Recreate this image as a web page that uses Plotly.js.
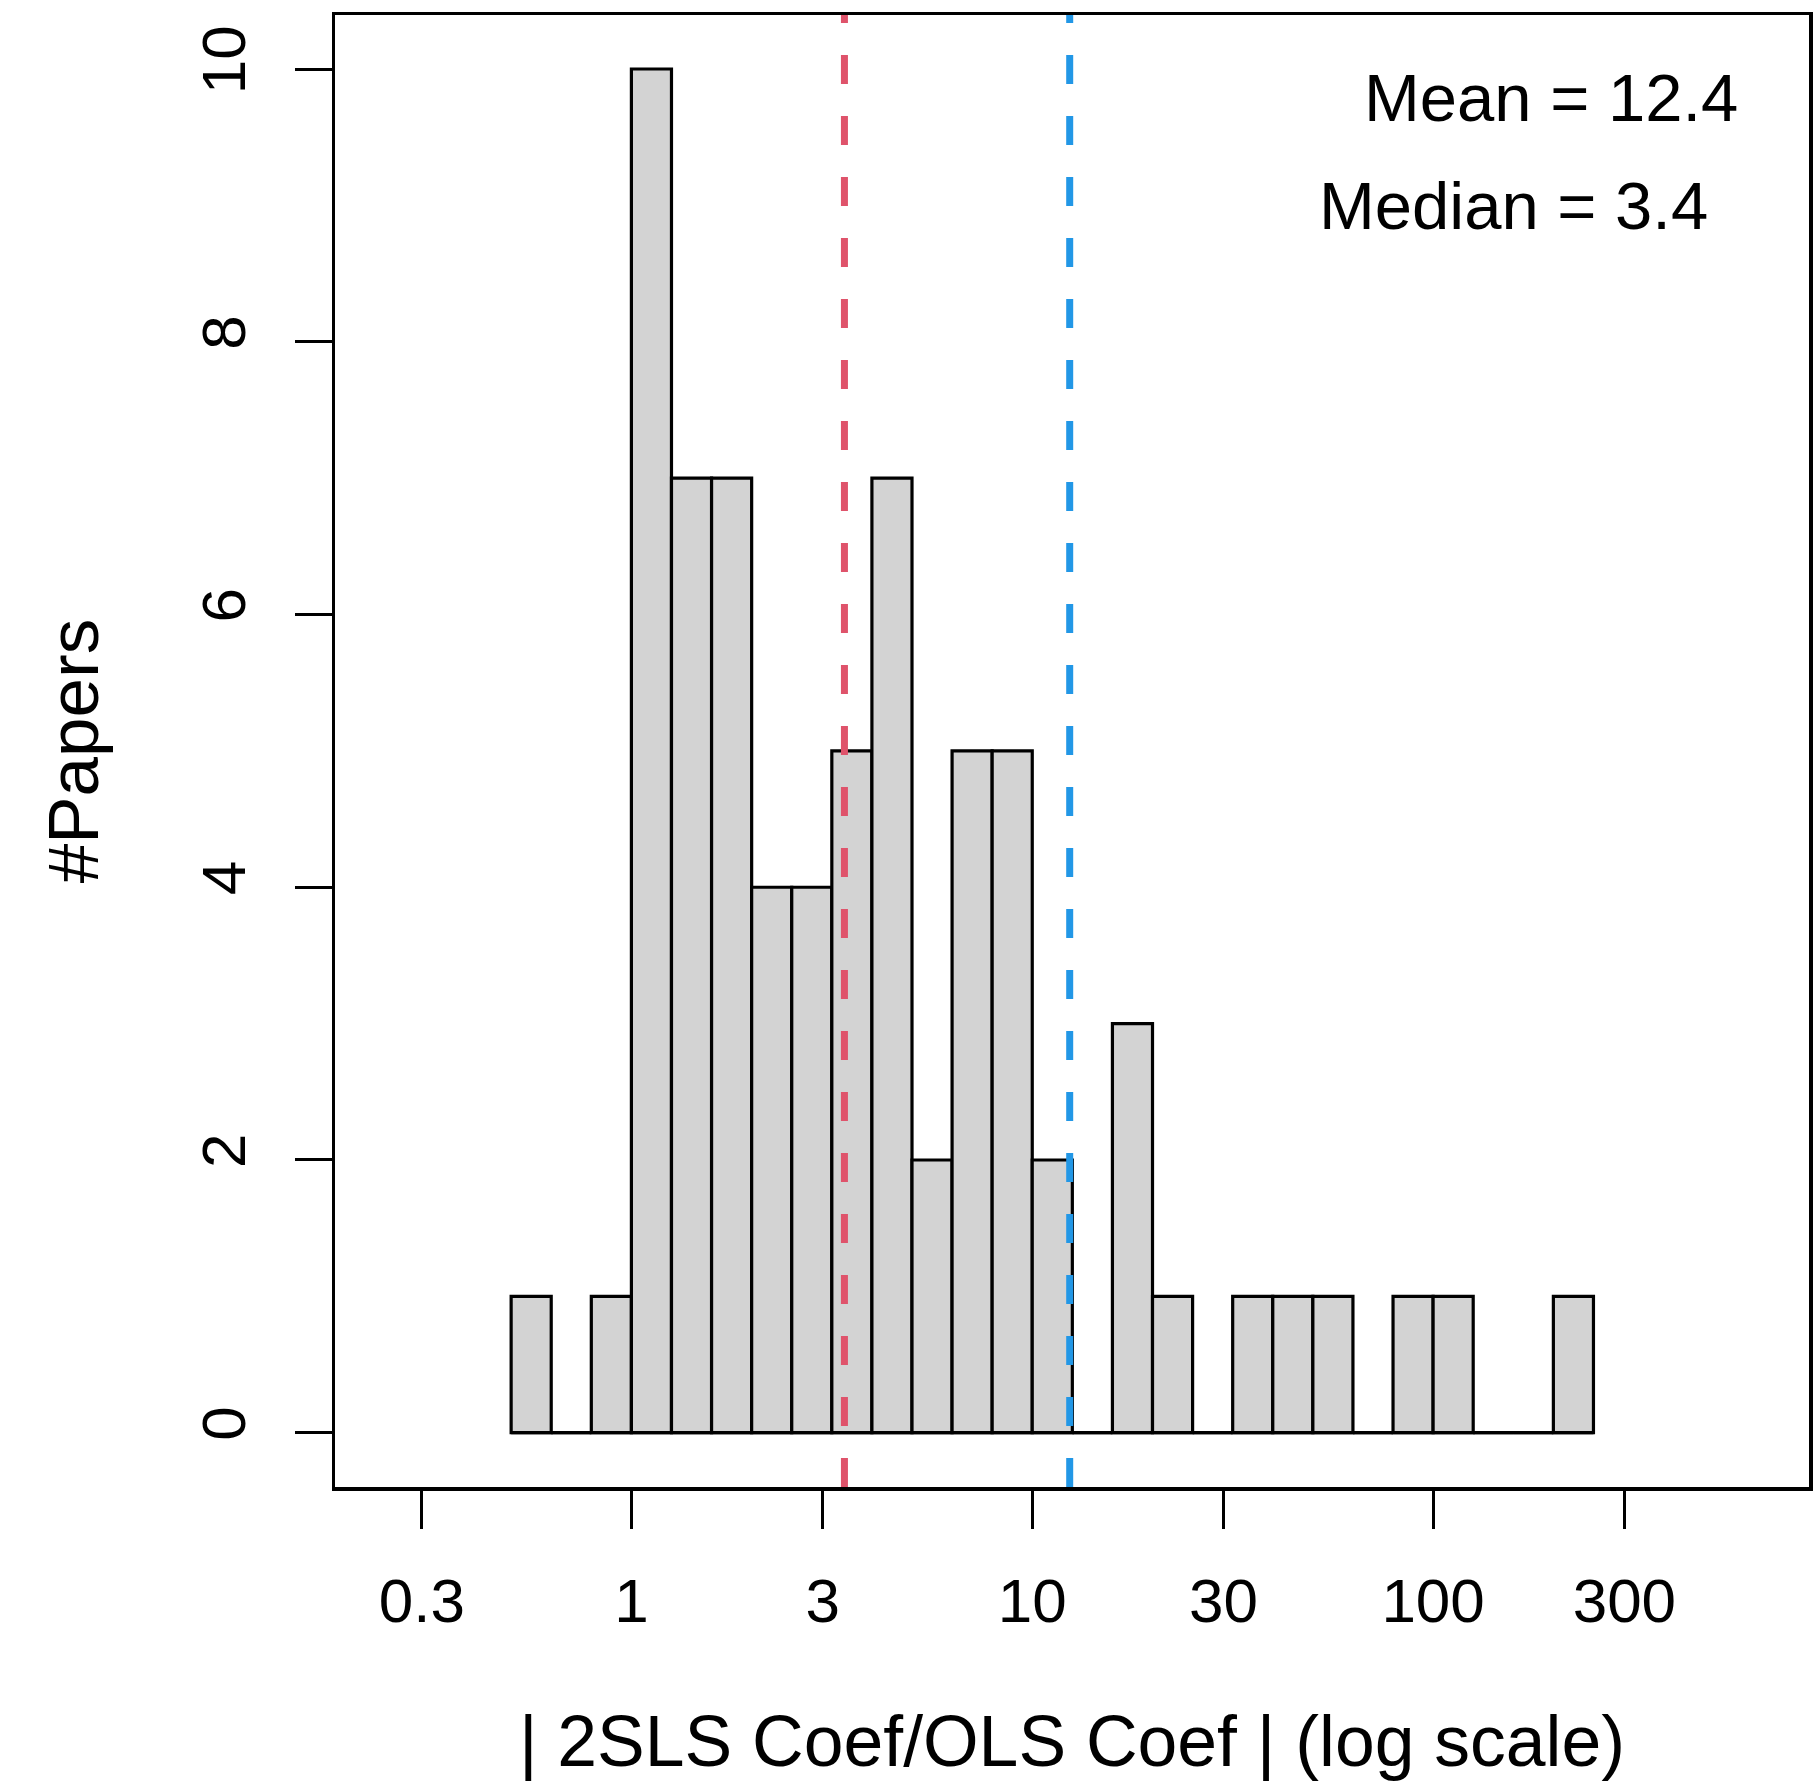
<!DOCTYPE html>
<html>
<head>
<meta charset="utf-8">
<script src="https://cdn.plot.ly/plotly-3.0.1.min.js"></script>
<style>
  html, body { margin: 0; padding: 0; background: #ffffff; }
  #chart { width: 1818px; height: 1781px; }
</style>
</head>
<body>
<div id="chart"></div>
<script>
// ---- data (bins are in log10 units of |2SLS coef / OLS coef|) ----
const binStartsLog10 = [-0.3, -0.2, -0.1, 0.0, 0.1, 0.2, 0.3, 0.4, 0.5, 0.6, 0.7, 0.8, 0.9,
                        1.0, 1.1, 1.2, 1.3, 1.4, 1.5, 1.6, 1.7, 1.8, 1.9, 2.0, 2.1, 2.2, 2.3];
const binWidthLog10 = 0.1;
const paperCounts   = [1, 0, 1, 10, 7, 7, 4, 4, 5, 7, 2, 5, 5,
                       2, 0, 3, 1, 0, 1, 1, 1, 0, 1, 1, 0, 0, 1];
const tickValues = [0.3, 1, 3, 10, 30, 100, 300];
const tickLabels = ["0.3", "1", "3", "10", "30", "100", "300"];
const yTickValues = [0, 2, 4, 6, 8, 10];
const meanRatio = 12.4;
const medianRatio = 3.4;
const statLabels = ["Mean = 12.4", "Median = 3.4"];

const FONT = "Liberation Sans, Arial, Helvetica, sans-serif";

const centers = binStartsLog10.map(s => s + binWidthLog10 / 2);
const firstEdge = binStartsLog10[0];
const lastEdge = binStartsLog10[binStartsLog10.length - 1] + binWidthLog10;

const baseline = {
  type: "scatter", mode: "lines",
  x: [firstEdge, lastEdge], y: [0, 0],
  line: { color: "#000000", width: 3.2 },
  hoverinfo: "skip", showlegend: false
};

const bars = {
  type: "bar",
  x: centers, y: paperCounts,
  width: binWidthLog10,
  marker: { color: "#D3D3D3", line: { color: "#000000", width: 3.2 } },
  hoverinfo: "skip", showlegend: false
};

const layout = {
  width: 1818, height: 1781,
  margin: { l: 335, r: 9, t: 15, b: 294, pad: 0 },
  paper_bgcolor: "#ffffff", plot_bgcolor: "#ffffff",
  font: { family: FONT, color: "#000000" },
  showlegend: false,
  bargap: 0,
  xaxis: {
    range: [-0.7394, 2.9377],
    tickmode: "array",
    tickvals: tickValues.map(v => Math.log10(v)),
    ticktext: tickLabels,
    ticks: "outside", ticklen: 38, tickwidth: 3, tickcolor: "#000000",
    tickfont: { size: 62, family: FONT, color: "#000000" },
    ticklabelstandoff: 19,
    showline: true, mirror: true, linewidth: 3.5, linecolor: "#000000",
    showgrid: false, zeroline: false,
    title: { text: "| 2SLS Coef/OLS Coef | (log scale)", font: { size: 71.5, family: FONT, color: "#000000" }, standoff: 89 }
  },
  yaxis: {
    range: [-0.398, 10.396],
    tickmode: "array",
    tickvals: yTickValues,
    ticktext: yTickValues.map(String),
    tickangle: -90,
    ticks: "outside", ticklen: 37, tickwidth: 3, tickcolor: "#000000",
    tickfont: { size: 62, family: FONT, color: "#000000" },
    ticklabelstandoff: 25,
    showline: true, mirror: true, linewidth: 3.5, linecolor: "#000000",
    showgrid: false, zeroline: false,
    title: { text: "#Papers", font: { size: 71, family: FONT, color: "#000000" }, standoff: 68 }
  },
  shapes: [
    { type: "line", xref: "x", yref: "paper",
      x0: Math.log10(medianRatio), x1: Math.log10(medianRatio), y0: 0, y1: 1,
      line: { color: "#DF536B", width: 7, dash: "29px,32px" } },
    { type: "line", xref: "x", yref: "paper",
      x0: Math.log10(meanRatio), x1: Math.log10(meanRatio), y0: 0, y1: 1,
      line: { color: "#2297E6", width: 7, dash: "29px,32px" } }
  ],
  annotations: [
    { xref: "x", yref: "y", x: 2.295, y: 9.79, text: statLabels[0], showarrow: false,
      xanchor: "center", yanchor: "middle", font: { size: 67, family: FONT, color: "#000000" } },
    { xref: "x", yref: "y", x: 2.2, y: 9.0, text: statLabels[1], showarrow: false,
      xanchor: "center", yanchor: "middle", font: { size: 67, family: FONT, color: "#000000" } }
  ]
};

Plotly.newPlot("chart", [baseline, bars], layout, { displayModeBar: false, staticPlot: true });
</script>
</body>
</html>
